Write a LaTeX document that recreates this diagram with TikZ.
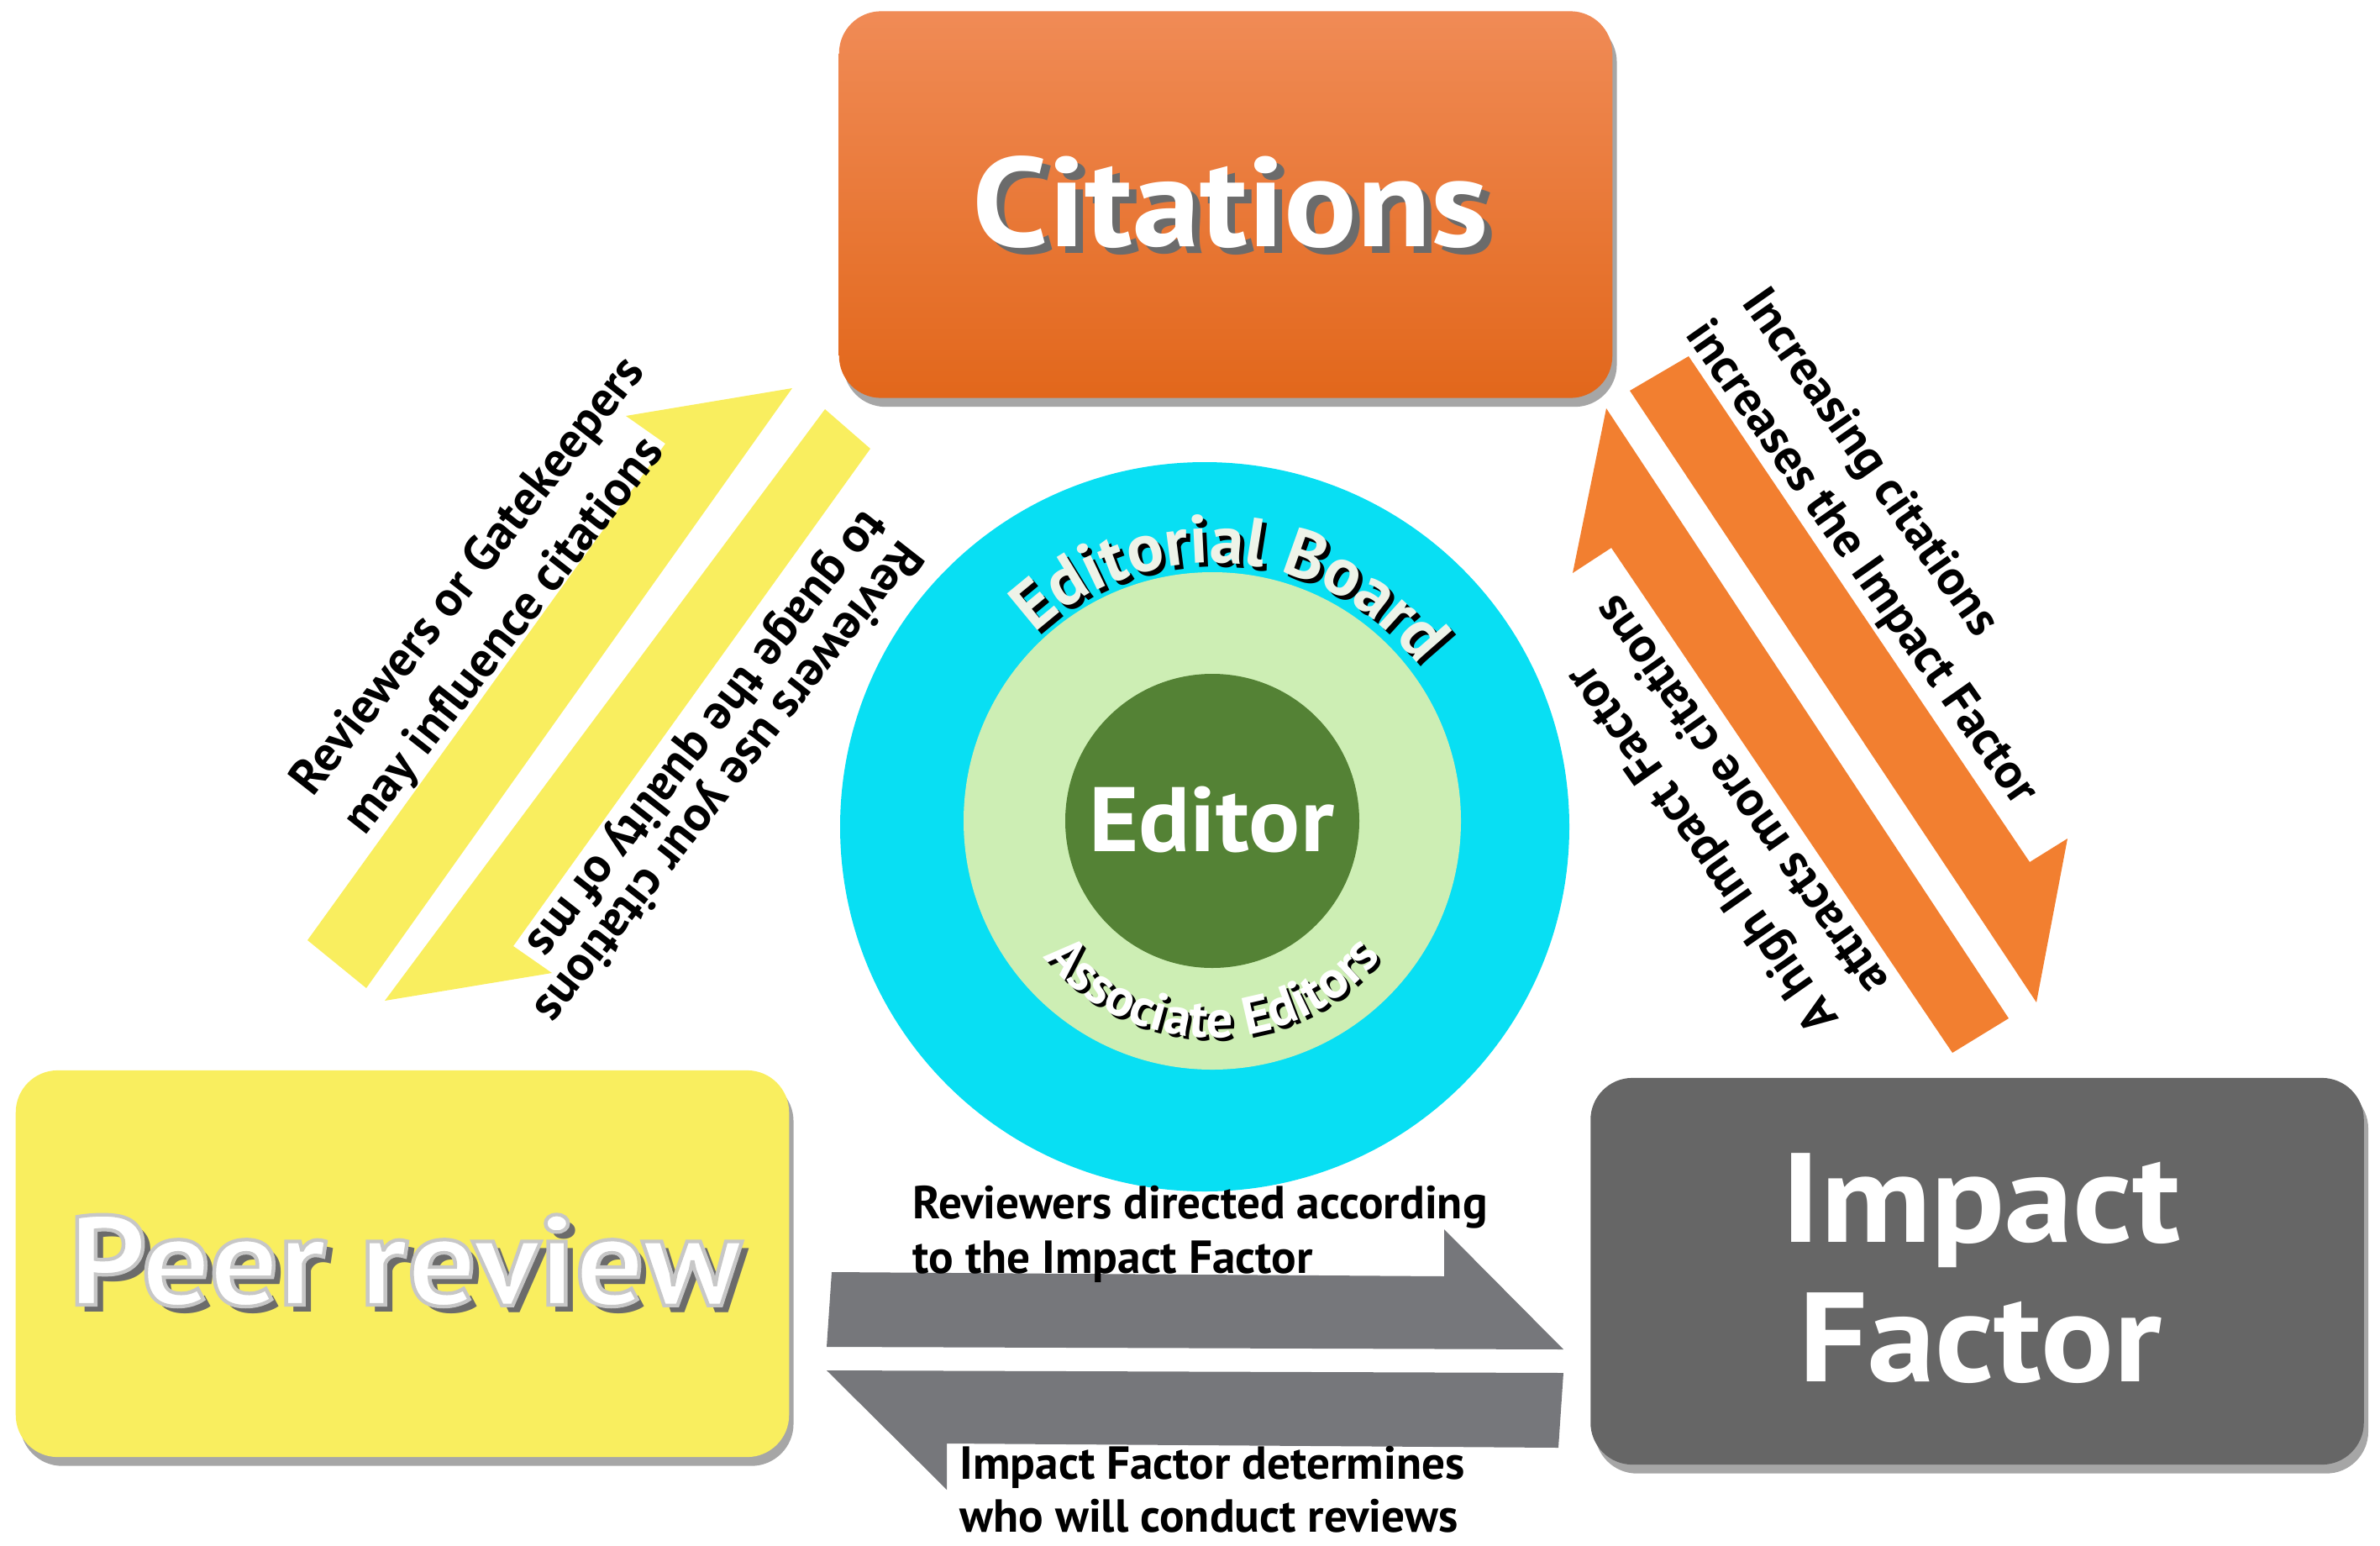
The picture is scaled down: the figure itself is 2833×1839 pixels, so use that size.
\documentclass[tikz,border=0pt]{standalone}
\usepackage{fontspec}
\setmainfont{PT Sans}
\usetikzlibrary{decorations.text,shadows}
\definecolor{cyanC}{HTML}{08DFF3}
\definecolor{lgreen}{HTML}{CDEEB4}
\definecolor{dgreen}{HTML}{548235}
\definecolor{yel}{HTML}{F9EE5F}
\definecolor{boxgray}{HTML}{666666}
\definecolor{arrgray}{HTML}{76777B}
\definecolor{orT}{HTML}{F08B56}
\definecolor{orM}{HTML}{F37A2C}
\definecolor{orB}{HTML}{E2671B}
\definecolor{orA}{HTML}{F27F30}
\definecolor{orD}{HTML}{E4691B}
\definecolor{shgray}{HTML}{6B6B6B}
\definecolor{ebwhite}{HTML}{EEF3E8}
\newcommand\headfont{\fontsize{43}{50}\selectfont\bfseries}
\newcommand\editorfont{\fontsize{31}{36}\selectfont\bfseries}
\newcommand\ebfont{\fontsize{23}{26}\selectfont\bfseries}
\newcommand\aefont{\fontsize{18}{21}\selectfont\bfseries}
\newcommand\lblfont{\fontsize{15.7}{18}\selectfont\bfseries}
\newcommand\rlblfont{\fontsize{16.7}{20}\selectfont\bfseries}
\newcommand\outlineon{\special{pdf:literal direct 2 Tr 1.2 w 0.78 0.78 0.78 RG}}
\newcommand\outlineoff{\special{pdf:literal direct 0 Tr}}
\begin{document}
\begin{tikzpicture}[x=0.01cm,y=-0.01cm,
  bigbox/.style={rounded corners=0.5cm, minimum width=9.2cm, minimum height=4.6cm, inner sep=0pt,
    drop shadow={shadow xshift=1.5pt, shadow yshift=-3pt, fill=black, opacity=0.35}},
  headtxt/.style={font=\headfont, inner sep=0pt, anchor=base},
  lbl/.style={font=\lblfont, inner sep=0pt, anchor=base west, text=black},
  rlbl/.style={font=\rlblfont, inner sep=0pt, anchor=base west, text=black}
]
\path[use as bounding box] (0,0) rectangle (2833,1839);

% boxes
\node[bigbox, top color=orT, middle color=orM, bottom color=orB] (cit) at (1459,243.5) {};
\node[bigbox, fill=yel] (peer) at (479,1504) {};
\node[bigbox, fill=boxgray] (imp) at (2353.5,1513) {};

% box texts
\node[headtxt, xscale=1.07, text=shgray] (citS) at (1474,301) {Citations};
\node[headtxt, xscale=1.07, text=white] (citT) at (1465,293) {Citations};

\node[headtxt, xscale=1.065, text=shgray] (peerS) at (491,1561) {Peer review};
\node[headtxt, xscale=1.065, text=white] (peerT) at (482,1553) {\outlineon Peer review\outlineoff};

\node[headtxt, xscale=1.08, text=white] (impT1) at (2358,1478) {Impact};
\node[headtxt, xscale=1.07, text=white] (impT2) at (2357,1644) {Factor};

% circles
\coordinate (cc) at (1434,984);
\coordinate (gc) at (1443,977);
\fill[cyanC] (cc) circle[radius=434];
\fill[lgreen] (gc) circle[radius=296];
\fill[dgreen] (gc) circle[radius=175];
\node[font=\editorfont, xscale=1.045, text=white, inner sep=0pt, anchor=base] (ed) at (1442,1013) {Editor};

% curved texts
\path[decorate, decoration={text along path, text={|\ebfont\color{black}|Editorial Board}, text align=center}]
  ([shift={(5,5)}]gc) ++(-150.25:307) arc[start angle=-150.25, end angle=-20.25, radius=307];
\path[decorate, decoration={text along path, text={|\ebfont\color{ebwhite}|Editorial Board}, text align=center}]
  (gc) ++(-150.25:307) arc[start angle=-150.25, end angle=-20.25, radius=307];
\path[decorate, decoration={text along path, text={|\aefont\color{black}|Associate Editors}, text align=center}]
  ([shift={(4,4)}]gc) ++(165:258) arc[start angle=165, end angle=15, radius=258];
\path[decorate, decoration={text along path, text={|\aefont\color{white}|Associate Editors}, text align=center}]
  (gc) ++(165:258) arc[start angle=165, end angle=15, radius=258];

% yellow arrows
\coordinate (ya1) at (366,1119);
\coordinate (ya2) at (436,1176);
\coordinate (ya3) at (943,462);
\coordinate (ya4) at (745,495);
\coordinate (ya5) at (792,528);
\fill[yel] (ya1) -- (ya2) -- (ya3) -- (ya4) -- (ya5) -- cycle;
\coordinate (yb1) at (982,487);
\coordinate (yb2) at (1036,534);
\coordinate (yb3) at (611,1126);
\coordinate (yb4) at (657,1158);
\coordinate (yb5) at (458,1191);
\fill[yel] (yb1) -- (yb2) -- (yb3) -- (yb4) -- (yb5) -- cycle;

% orange arrows
\coordinate (oa1) at (1940,465);
\coordinate (oa2) at (2010,424);
\coordinate (oa3) at (2416,1026);
\coordinate (oa4) at (2461,998);
\coordinate (oa5) at (2424,1193);
\shade[top color=orA, middle color=orD, bottom color=orA, shading angle=-55]
  (oa1) -- (oa2) -- (oa3) -- (oa4) -- (oa5) -- cycle;
\coordinate (ob1) at (1912,486);
\coordinate (ob2) at (1872,682);
\coordinate (ob3) at (1918,652);
\coordinate (ob4) at (2324,1253);
\coordinate (ob5) at (2391,1212);
\shade[top color=orA, middle color=orD, bottom color=orA, shading angle=-55]
  (ob1) -- (ob2) -- (ob3) -- (ob4) -- (ob5) -- cycle;

% gray arrows
\coordinate (ga1) at (990,1514);
\coordinate (ga2) at (984,1603);
\coordinate (ga3) at (1861,1606);
\coordinate (ga4) at (1719,1463);
\coordinate (ga5) at (1719,1519);
\fill[arrgray] (ga1) -- (ga2) -- (ga3) -- (ga4) -- (ga5) -- cycle;
\coordinate (gb1) at (984,1631);
\coordinate (gb2) at (1861,1634);
\coordinate (gb3) at (1855,1723);
\coordinate (gb4) at (1127,1718);
\coordinate (gb5) at (1127,1773);
\fill[arrgray] (gb1) -- (gb2) -- (gb3) -- (gb4) -- (gb5) -- cycle;

% labels
\node[lbl] (l1a) at (1086,1450) {Reviewers directed according};
\node[lbl] (l1b) at (1086,1515) {to the Impact Factor};
\node[lbl] (l2a) at (1142,1760) {Impact Factor determines};
\node[lbl] (l2b) at (1142,1823) {who will conduct reviews};

\node[rlbl, rotate=52] (l3a) at (372,950) {Reviewers or Gatekeepers};
\node[rlbl, rotate=52] (l3b) at (434,996) {may influence citations};
\node[rlbl, rotate=232] (l4a) at (1072,640) {Reviewers use your citations};
\node[rlbl, rotate=232] (l4b) at (1030,604) {to guage the quality of ms};
\node[rlbl, rotate=-55] (l5a) at (2072,360) {Increasing citations};
\node[rlbl, rotate=-55] (l5b) at (2005,398) {increases the Impact Factor};
\node[rlbl, rotate=125] (l6a) at (2190,1213) {A high Impact Factor};
\node[rlbl, rotate=125] (l6b) at (2250,1168) {attracts more citations};
\end{tikzpicture}
\end{document}
